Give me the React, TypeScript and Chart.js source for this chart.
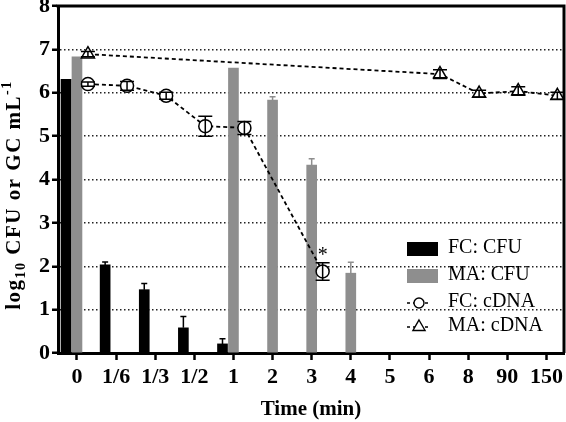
import React, { useEffect, useRef } from 'react';
import { Chart, registerables } from 'chart.js';

Chart.register(...registerables);

// ---- data ----
const timeLabels = ['0', '1/6', '1/3', '1/2', '1', '2', '3', '4', '5', '6', '8', '90', '150'];
const fcCfu = [6.31, 2.03, 1.46, 0.58, 0.21, null, null, null, null, null, null, null, null];
const fcCfuErr = [0, 0.07, 0.14, 0.26, 0.12, null, null, null, null, null, null, null, null];
const maCfu = [6.83, null, null, null, 6.57, 5.83, 4.33, 1.84, null, null, null, null, null];
const maCfuErr = [0, null, null, null, 0, 0.08, 0.15, 0.25, null, null, null, null, null];
const fcCdna = [6.2, 6.16, 5.93, 5.23, 5.19, null, 1.88, null, null, null, null, null, null];
const fcCdnaErr = [0.05, 0.1, 0.08, 0.23, 0.15, null, 0.2, null, null, null, null, null, null];
const maCdna = [6.89, null, null, null, null, null, null, null, null, 6.43, 5.98, 6.04, 5.93];
const maCdnaErr = [0.06, null, null, null, null, null, null, null, null, 0.1, 0.08, 0.1, 0.08];
const fcCdnaSig = ['', '', '', '', '', '', '*', '', '', '', '', '', ''];

const FONT = "'Liberation Serif', 'Times New Roman', Times, serif";
const GRAY = '#8e8e8e';

function build(values: (number | null)[], errs: (number | null)[], offset: number, sig?: string[]) {
  const pts: any[] = [];
  const e: number[] = [];
  const s: string[] = [];
  values.forEach((v, i) => {
    if (v === null || v === undefined) return;
    pts.push({ x: i + offset, y: v });
    e.push(errs[i] || 0);
    s.push(sig ? sig[i] : '');
  });
  return { pts, e, s };
}

const framePlugin = {
  id: 'frame',
  beforeDatasetsDraw(chart: any) {
    const { ctx, chartArea: a } = chart;
    ctx.save();
    ctx.strokeStyle = '#000';
    ctx.lineWidth = 3;
    ctx.beginPath();
    ctx.moveTo(a.left - 1.5, a.top);
    ctx.lineTo(a.right, a.top);
    ctx.lineTo(a.right, a.bottom);
    ctx.stroke();
    ctx.restore();
  },
};

const errorBarPlugin = {
  id: 'errorBars',
  afterDatasetsDraw(chart: any) {
    const ctx = chart.ctx;
    const ys = chart.scales.y;
    chart.data.datasets.forEach((ds: any, di: number) => {
      const meta = chart.getDatasetMeta(di);
      const errs = ds.errors as number[];
      if (!errs) return;
      meta.data.forEach((el: any, i: number) => {
        const err = errs[i];
        if (!err) return;
        const v = ds.data[i].y;
        const top = ys.getPixelForValue(v + err);
        ctx.save();
        if (ds.type === 'line') {
          const bot = ys.getPixelForValue(v - err);
          ctx.strokeStyle = '#000';
          ctx.lineWidth = 1.5;
          ctx.beginPath();
          ctx.moveTo(el.x, top);
          ctx.lineTo(el.x, bot);
          ctx.moveTo(el.x - 7, top);
          ctx.lineTo(el.x + 7, top);
          ctx.moveTo(el.x - 7, bot);
          ctx.lineTo(el.x + 7, bot);
          ctx.stroke();
        } else {
          ctx.strokeStyle = ds.backgroundColor;
          ctx.lineWidth = 1.5;
          ctx.beginPath();
          ctx.moveTo(el.x, el.y);
          ctx.lineTo(el.x, top);
          ctx.moveTo(el.x - 3, top);
          ctx.lineTo(el.x + 3, top);
          ctx.stroke();
        }
        ctx.restore();
      });
    });
  },
};

const sigPlugin = {
  id: 'sig',
  afterDatasetsDraw(chart: any) {
    const ctx = chart.ctx;
    chart.data.datasets.forEach((ds: any, di: number) => {
      if (!ds.sig) return;
      const meta = chart.getDatasetMeta(di);
      meta.data.forEach((el: any, i: number) => {
        const s = ds.sig[i];
        if (!s) return;
        ctx.save();
        ctx.fillStyle = '#000';
        ctx.font = `20px ${FONT}`;
        ctx.textAlign = 'center';
        ctx.textBaseline = 'alphabetic';
        ctx.fillText(s, el.x, el.y - 10);
        ctx.restore();
      });
    });
  },
};

function drawMarker(ctx: any, style: string, x: number, y: number, r: number) {
  ctx.beginPath();
  if (style === 'triangle') {
    ctx.moveTo(x, y - r);
    ctx.lineTo(x + r * Math.sin((2 * Math.PI) / 3), y - r * Math.cos((2 * Math.PI) / 3));
    ctx.lineTo(x + r * Math.sin((4 * Math.PI) / 3), y - r * Math.cos((4 * Math.PI) / 3));
    ctx.closePath();
  } else {
    ctx.arc(x, y, r, 0, Math.PI * 2);
  }
  ctx.fill();
  ctx.stroke();
}

const legendPlugin = {
  id: 'customLegend',
  afterDraw(chart: any) {
    const { ctx, chartArea: a } = chart;
    const left = a.right - 157;
    const rows = [a.bottom - 104, a.bottom - 77, a.bottom - 50, a.bottom - 26];
    const order = [0, 1, 2, 3];
    ctx.save();
    order.forEach((di, k) => {
      const ds = chart.data.datasets[di];
      const yc = rows[k];
      if (ds.type === 'bar') {
        ctx.fillStyle = ds.backgroundColor;
        ctx.fillRect(left, yc - 7, 31, 14);
      } else {
        ctx.strokeStyle = '#000';
        ctx.lineWidth = 1.5;
        ctx.setLineDash([3, 3]);
        ctx.beginPath();
        ctx.moveTo(left, yc);
        ctx.lineTo(left + 24, yc);
        ctx.stroke();
        ctx.setLineDash([]);
        ctx.fillStyle = '#fff';
        ctx.lineWidth = 1.4;
        drawMarker(ctx, ds.pointStyle, left + 12, yc, ds.pointStyle === 'triangle' ? 7 : 5);
      }
      ctx.fillStyle = '#000';
      ctx.font = `20px ${FONT}`;
      ctx.textAlign = 'left';
      ctx.textBaseline = 'middle';
      ctx.fillText(ds.label, left + 41, yc - 1);
    });
    ctx.restore();
  },
};

const yTitlePlugin = {
  id: 'yTitle',
  afterDraw(chart: any) {
    const ctx = chart.ctx;
    const parts = [
      { t: 'log', size: 21, dy: 0 },
      { t: '10', size: 14, dy: 5 },
      { t: ' CFU or GC mL', size: 21, dy: 0 },
      { t: '-1', size: 14, dy: -9 },
    ];
    ctx.save();
    ctx.translate(20, 195);
    ctx.rotate(-Math.PI / 2);
    ctx.fillStyle = '#000';
    ctx.textBaseline = 'alphabetic';
    ctx.textAlign = 'left';
    try { ctx.letterSpacing = '1.5px'; } catch (e) { /* ignore */ }
    let total = 0;
    parts.forEach((p) => {
      ctx.font = `bold ${p.size}px ${FONT}`;
      total += ctx.measureText(p.t).width;
    });
    let x = -total / 2;
    parts.forEach((p) => {
      ctx.font = `bold ${p.size}px ${FONT}`;
      ctx.fillText(p.t, x, p.dy);
      x += ctx.measureText(p.t).width;
    });
    ctx.restore();
  },
};

export default function App() {
  const ref = useRef<HTMLCanvasElement>(null);

  useEffect(() => {
    if (!ref.current) return;
    const fcBar = build(fcCfu, fcCfuErr, -0.28);
    const maBar = build(maCfu, maCfuErr, 0);
    const fcLine = build(fcCdna, fcCdnaErr, 0.28, fcCdnaSig);
    const maLine = build(maCdna, maCdnaErr, 0.28);
    const tickFont = { family: FONT, size: 22, weight: 'bold' as const };

    const chart = new Chart(ref.current, {
      type: 'bar',
      data: {
        datasets: [
          {
            type: 'bar',
            label: 'FC: CFU',
            data: fcBar.pts,
            errors: fcBar.e,
            backgroundColor: '#000',
            borderWidth: 0,
            barThickness: 10,
            grouped: false,
            order: 2,
          } as any,
          {
            type: 'bar',
            label: 'MA: CFU',
            data: maBar.pts,
            errors: maBar.e,
            backgroundColor: GRAY,
            borderWidth: 0,
            barThickness: 10,
            grouped: false,
            order: 2,
          } as any,
          {
            type: 'line',
            label: 'FC: cDNA',
            data: fcLine.pts,
            errors: fcLine.e,
            sig: fcLine.s,
            borderColor: '#000',
            borderWidth: 1.8,
            borderDash: [4, 3],
            pointStyle: 'circle',
            pointRadius: 6.5,
            pointBorderWidth: 1.5,
            pointBackgroundColor: '#fff',
            pointBorderColor: '#000',
            fill: false,
            tension: 0,
            clip: false,
            order: 1,
          } as any,
          {
            type: 'line',
            label: 'MA: cDNA',
            data: maLine.pts,
            errors: maLine.e,
            borderColor: '#000',
            borderWidth: 1.8,
            borderDash: [4, 3],
            pointStyle: 'triangle',
            pointRadius: 7.5,
            pointBorderWidth: 1.5,
            pointBackgroundColor: '#fff',
            pointBorderColor: '#000',
            fill: false,
            tension: 0,
            clip: false,
            order: 1,
          } as any,
        ],
      },
      options: {
        responsive: false,
        animation: false,
        events: [],
        layout: { autoPadding: false, padding: { top: 6, right: 2, left: 0, bottom: 0 } },
        plugins: { legend: { display: false }, tooltip: { enabled: false } },
        scales: {
          x: {
            type: 'linear',
            min: -0.485,
            max: 12.45,
            offset: false,
            afterBuildTicks: (s: any) => {
              s.ticks = timeLabels.map((_, i) => ({ value: i }));
            },
            afterFit: (s: any) => {
              s.height = 69;
              s.paddingLeft = 0;
              s.paddingRight = 0;
            },
            ticks: {
              callback: (v: any) => timeLabels[v] ?? '',
              autoSkip: false,
              maxRotation: 0,
              minRotation: 0,
              font: tickFont,
              color: '#000',
              padding: 4,
            },
            grid: {
              offset: false,
              drawOnChartArea: false,
              drawTicks: true,
              tickLength: 7,
              tickWidth: 2.5,
              tickColor: '#000',
              color: '#000',
            },
            border: { display: true, width: 3, color: '#000' },
            title: {
              display: true,
              text: 'Time (min)',
              font: { family: FONT, size: 21, weight: 'bold' },
              color: '#000',
              padding: { top: 0, bottom: 0 },
            },
          } as any,
          y: {
            min: 0,
            max: 8,
            afterFit: (s: any) => {
              s.width = 58;
              s.paddingTop = 0;
              s.paddingBottom = 0;
            },
            ticks: { stepSize: 1, font: tickFont, color: '#000', padding: 2 },
            grid: {
              color: (c: any) =>
                c.tick && c.tick.value > 0 && c.tick.value < 8 ? '#222' : 'rgba(0,0,0,0)',
              lineWidth: 1.5,
              drawTicks: true,
              tickLength: 6,
              tickWidth: 2.5,
              tickColor: '#000',
              tickBorderDash: [],
            },
            border: { display: true, width: 3, color: '#000', dash: [1.5, 2.5] },
            title: { display: false },
          } as any,
        },
      },
      plugins: [framePlugin, errorBarPlugin, sigPlugin, legendPlugin, yTitlePlugin],
    });
    return () => chart.destroy();
  }, []);

  return (
    <div style={{ position: 'absolute', left: 0, top: 0, width: 566, height: 422, background: '#fff' }}>
      <canvas ref={ref} width={566} height={422} />
    </div>
  );
}
